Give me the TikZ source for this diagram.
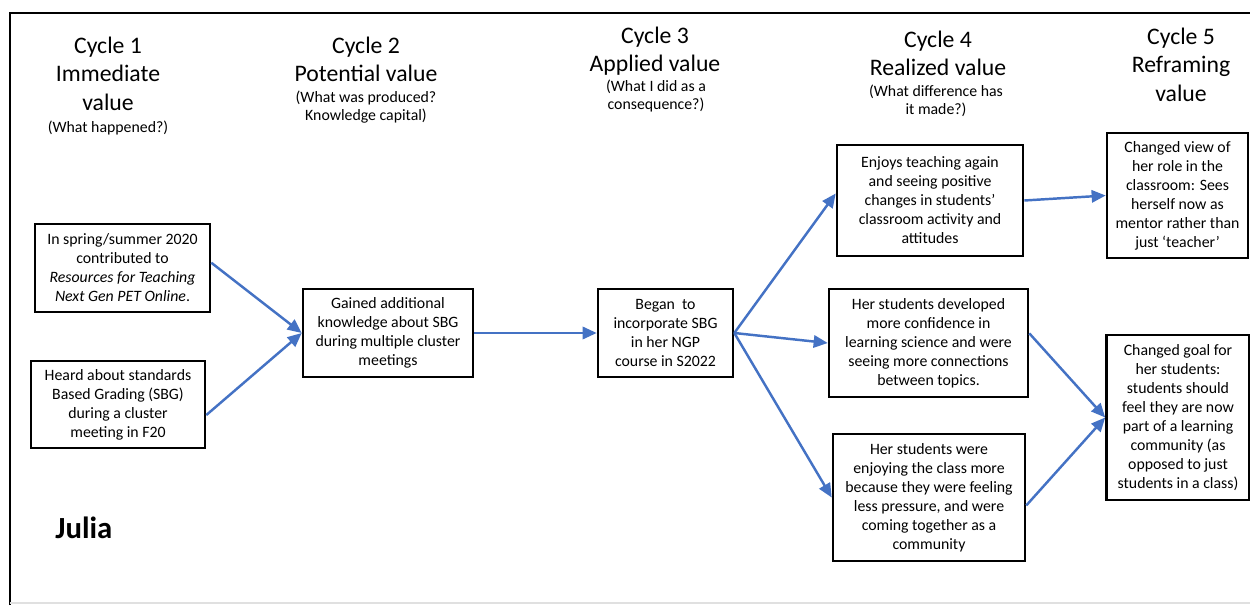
\documentclass[tikz,border=0pt]{standalone}
\usepackage{fontspec}
\setmainfont{Carlito}
\usetikzlibrary{arrows.meta, positioning}
\definecolor{linkblue}{HTML}{4472C4}

\begin{document}
\begin{tikzpicture}
  [x=0.02cm, y=-0.02cm,
   head/.style={anchor=north, align=center, inner sep=0pt, font=\fontsize{13.5}{16}\selectfont},
   sub/.style={anchor=north, align=center, inner sep=0pt, font=\fontsize{9}{10}\selectfont},
   block/.style={draw, line width=1.5pt, align=center, inner sep=2pt, font=\fontsize{9}{10.8}\selectfont},
   link/.style={draw=linkblue, line width=1.4pt, -{Triangle[length=8pt, width=7pt]}}]
  \useasboundingbox (0,0) rectangle (1250,605);
  \draw[line width=1.6pt] (10,605) -- (10,13) -- (1250,13);
  \draw[black!12, line width=0.6pt] (10,603) -- (1250,603);

  \foreach \n/\x/\y/\t in {1/108/37/{Immediate\\value}, 2/366/37/{Potential value},
      3/655/27/{Applied value}, 4/938/31/{Realized value}, 5/1181/28/{Reframing\\value}}{
    \node[head] (h\n) at (\x, \y) {Cycle \n\\\t};
  }
  \node[sub] (s1) at (108, 121) {(What happened?)};
  \node[sub] (s2) at (366, 91) {(What was produced?\\Knowledge capital)};
  \node[sub] (s3) at (656, 80) {(What I did as a\\consequence?)};
  \node[sub] (s4) at (936, 85) {(What difference has\\it made?)};
  \node[anchor=base west, inner sep=0pt, font=\fontsize{17.5}{20}\selectfont\bfseries] (who) at (55, 538) {Julia};

  \node[block, minimum width=3.5cm, minimum height=1.76cm] (a1) at (122.5, 268)
    {In spring/summer 2020\\contributed to\\\textit{Resources for Teaching}\\\textit{Next Gen PET Online}.};
  \node[block, minimum width=3.48cm, minimum height=1.74cm] (a2) at (118, 404.5)
    {Heard about standards\\Based Grading (SBG)\\during a cluster\\meeting in F20};
  \node[block, minimum width=3.4cm, minimum height=1.76cm] (b) at (388, 333)
    {Gained additional\\knowledge about SBG\\during multiple cluster\\meetings};
  \node[block, minimum width=2.7cm, minimum height=1.76cm] (c) at (665.5, 333)
    {Began\ \ to\\incorporate SBG\\in her NGP\\course in S2022};
  \node[block, minimum width=3.72cm, minimum height=2.22cm] (d1) at (930, 200.5)
    {Enjoys teaching again\\and seeing positive\\changes in students’\\classroom activity and\\attitudes};
  \node[block, minimum width=3.98cm, minimum height=2.16cm] (d2) at (928.5, 343)
    {Her students developed\\more confidence in\\learning science and were\\seeing more connections\\between topics.};
  \node[block, minimum width=3.84cm, minimum height=2.54cm] (d3) at (929, 497.5)
    {Her students were\\enjoying the class more\\because they were feeling\\less pressure, and were\\coming together as a\\community};
  \node[block, minimum width=2.82cm, minimum height=2.5cm] (e1) at (1177.5, 195.5)
    {Changed view of\\her role in the\\classroom: Sees\\herself now as\\mentor rather than\\just ‘teacher’};
  \node[block, minimum width=2.86cm, minimum height=3.3cm] (e2) at (1178, 417.5)
    {Changed goal for\\her students:\\students should\\feel they are now\\part of a learning\\community (as\\opposed to just\\students in a class)};

  \draw[link] ([yshift=3pt]a1.east) -- (b.west);
  \draw[link] ([yshift=-6pt]a2.east) -- (b.west);
  \draw[link] (b.east) -- (c.west);
  \draw[link] (c.east) -- ([yshift=4pt]d1.west);
  \draw[link] (c.east) -- (d2.west);
  \draw[link] (c.east) -- (d3.west);
  \draw[link] (d1.east) -- (e1.west);
  \draw[link] ([yshift=5.5pt]d2.east) -- (e2.west);
  \draw[link] ([yshift=-4.5pt]d3.east) -- (e2.west);
\end{tikzpicture}
\end{document}
